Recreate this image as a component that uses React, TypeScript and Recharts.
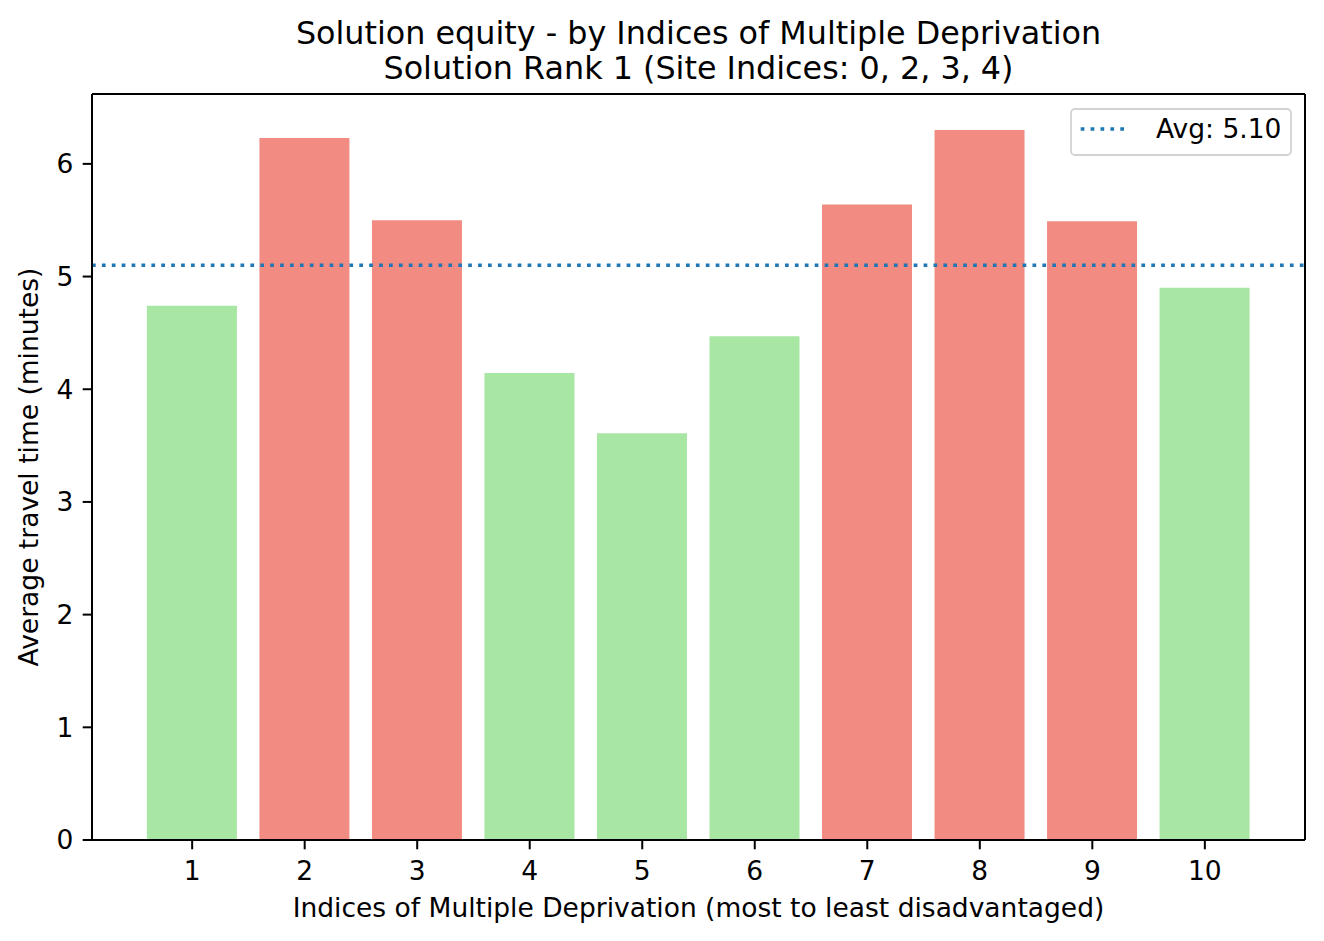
import React from 'react';
import { ComposedChart, Bar, Line, XAxis, YAxis, Cell, ReferenceLine, Legend } from 'recharts';

const deciles = ['1', '2', '3', '4', '5', '6', '7', '8', '9', '10'];
const travelTimes = [4.74, 6.23, 5.5, 4.145, 3.61, 4.47, 5.64, 6.3, 5.49, 4.9];
const avgTravelTime = 5.1;
const yTicks = [0, 1, 2, 3, 4, 5, 6];
const yMax = 6.62;
const titleLines = [
  'Solution equity - by Indices of Multiple Deprivation',
  'Solution Rank 1 (Site Indices: 0, 2, 3, 4)',
];
const xLabel = 'Indices of Multiple Deprivation (most to least disadvantaged)';
const yLabel = 'Average travel time (minutes)';

const FONT = 'DejaVu Sans';
const ABOVE = '#f28b82';
const BELOW = '#a8e6a3';
const AVG_COLOR = '#1f77b4';

const data = deciles.map((d, i) => ({ decile: d, time: travelTimes[i] }));

const W = 1324;
const H = 941;
const PLOT_L = 92;
const PLOT_R = 1305;
const PLOT_T = 94;
const PLOT_B = 840;

const LegendBox = () => (
  <svg width={222} height={48} style={{ display: 'block' }}>
    <rect x={1} y={1} width={220} height={46} rx={4} ry={4} fill="#ffffff" fillOpacity={0.8} stroke="#d3d3d3" strokeWidth={1.8} />
    <line x1={10.7} x2={58} y1={21} y2={21} stroke={AVG_COLOR} strokeWidth={3.6} strokeDasharray="3.7 6.2" />
    <text x={86} y={30.3} fontFamily={FONT} fontSize={26.5} fill="#000">
      {`Avg: ${avgTravelTime.toFixed(2)}`}
    </text>
  </svg>
);

export default function App() {
  const cx = (PLOT_L + PLOT_R) / 2;
  const cy = (PLOT_T + PLOT_B) / 2;
  return (
    <div style={{ position: 'absolute', left: 0, top: 0, width: W, height: H, background: '#fff' }}>
      <ComposedChart
        width={W}
        height={H}
        data={data}
        margin={{ top: PLOT_T - 1, right: W - PLOT_R - 1, left: 0, bottom: 0 }}
        style={{ fontFamily: FONT }}
      >
        <XAxis
          dataKey="decile"
          type="category"
          height={H - PLOT_B}
          padding={{ left: 43.9, right: 43.9 }}
          tickSize={9.3}
          tickMargin={12}
          tick={{ fill: '#000', fontSize: 26.5, fontFamily: FONT }}
          tickLine={{ stroke: '#000', strokeWidth: 2 }}
          axisLine={{ stroke: '#000', strokeWidth: 2 }}
        />
        <XAxis
          xAxisId="top"
          orientation="top"
          dataKey="decile"
          type="category"
          height={1}
          padding={{ left: 43.9, right: 43.9 }}
          tick={false}
          tickLine={false}
          axisLine={{ stroke: '#000', strokeWidth: 2 }}
        />
        <YAxis
          width={PLOT_L}
          domain={[0, yMax]}
          ticks={yTicks}
          type="number"
          allowDataOverflow
          tickSize={9.3}
          tickMargin={9.3}
          tick={{ fill: '#000', fontSize: 26.5, fontFamily: FONT }}
          tickLine={{ stroke: '#000', strokeWidth: 2 }}
          axisLine={{ stroke: '#000', strokeWidth: 2 }}
        />
        <YAxis
          yAxisId="right"
          orientation="right"
          width={1}
          type="number"
          domain={[0, yMax]}
          ticks={yTicks}
          allowDataOverflow
          tick={false}
          tickLine={false}
          axisLine={{ stroke: '#000', strokeWidth: 2 }}
        />
        <Bar dataKey="time" barSize={90} isAnimationActive={false}>
          {data.map((d, i) => (
            <Cell key={i} fill={d.time > avgTravelTime ? ABOVE : BELOW} />
          ))}
        </Bar>
        <Line
          xAxisId="top"
          yAxisId="right"
          dataKey="time"
          stroke="none"
          dot={false}
          activeDot={false}
          legendType="none"
          isAnimationActive={false}
        />
        <ReferenceLine
          y={avgTravelTime}
          stroke={AVG_COLOR}
          strokeWidth={3.6}
          strokeDasharray="3.7 6.2"
        />
        <Legend
          layout="vertical"
          align="center"
          verticalAlign="middle"
          wrapperStyle={{ position: 'absolute', left: 1070, top: 108, width: 222, height: 48 }}
          content={() => <LegendBox />}
        />
        <text x={cx} y={43.5} textAnchor="middle" fontFamily={FONT} fontSize={31.8} fill="#000">
          {titleLines[0]}
        </text>
        <text x={cx} y={78.5} textAnchor="middle" fontFamily={FONT} fontSize={31.8} fill="#000">
          {titleLines[1]}
        </text>
        <text x={cx} y={917} textAnchor="middle" fontFamily={FONT} fontSize={26.5} fill="#000">
          {xLabel}
        </text>
        <text
          x={37.5}
          y={cy}
          textAnchor="middle"
          fontFamily={FONT}
          fontSize={26.5}
          fill="#000"
          transform={`rotate(-90, 37.5, ${cy})`}
        >
          {yLabel}
        </text>
      </ComposedChart>
    </div>
  );
}
